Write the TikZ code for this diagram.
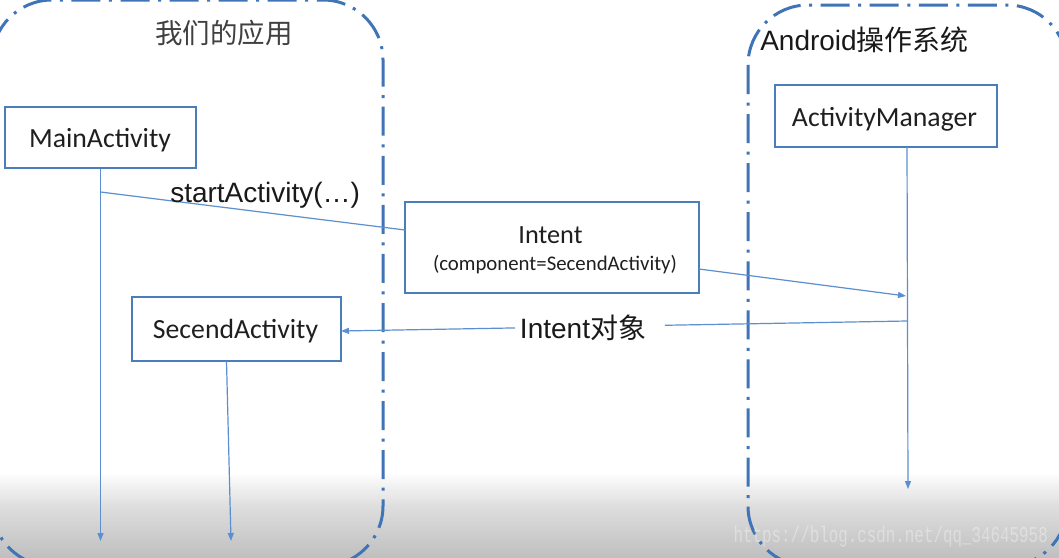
\documentclass[tikz,border=0pt]{standalone}
\usepackage{fontspec}
\setmainfont{Carlito}
\newfontfamily\arialf{Liberation Sans}
\newfontfamily\cjk{Noto Sans CJK SC}
\newfontfamily\wmfont{Liberation Mono}
\usetikzlibrary{arrows.meta,calc}
\definecolor{boxblue}{HTML}{4A7EBB}
\definecolor{lineblue}{HTML}{5B8FCF}
\definecolor{dashblue}{HTML}{3F74B6}
\begin{document}
\begin{tikzpicture}[x=0.75pt,y=-0.75pt,
  container/.style={draw=dashblue, line width=2.25pt, rounded corners=45pt,
    dash pattern=on 21.75pt off 6.4pt on 2.25pt off 6.4pt},
  objbox/.style={draw=boxblue, line width=1.9pt, fill=white, inner sep=0pt},
  lifeline/.style={draw=lineblue, line width=0.9pt},
  msg/.style={draw=lineblue, line width=0.9pt},
  tip/.style={-{Triangle[length=6pt,width=4.5pt]}},
  boxlabel/.style={font=\fontsize{20.8pt}{25pt}\selectfont, text=black!88, inner sep=0pt},
  biglabel/.style={font=\arialf\fontsize{21pt}{25pt}\selectfont, text=black!90, inner sep=0pt},
]
\useasboundingbox (0,0) rectangle (1059,557);
\clip (0,0) rectangle (1059,557);
% background
\fill[white] (0,0) rectangle (1059,557);
\shade[top color=white, bottom color=black!13] (0,472) rectangle (1059,506);
\shade[top color=black!13, bottom color=black!25] (0,506) rectangle (1059,557.5);

% containers
\draw[container] (-8,0) rectangle (383,566);
\draw[container] (748,5) rectangle (1067,566);

% container titles
\node[font=\cjk\fontsize{20.6pt}{25pt}\selectfont, text=black!75, inner sep=0pt] (appT) at (224,33) {我们的应用};
\node[biglabel, anchor=base west] (osT) at (760,50) {Android{\cjk 操作系统}};

% boxes
\node[objbox, minimum width=143.25pt, minimum height=45.75pt] (main) at (100.5,137.5) {};
\node[boxlabel, anchor=base] (mainL) at (100,147) {MainActivity};
\node[objbox, minimum width=166.5pt, minimum height=46.5pt] (am) at (886,116) {};
\node[boxlabel, anchor=base] (amL) at (884.5,126) {ActivityManager};
\node[objbox, minimum width=220.5pt, minimum height=68.25pt] (intent) at (552,247.5) {};
\node[boxlabel, font=\fontsize{19.7pt}{24pt}\selectfont, anchor=base] (intentL) at (550.5,243) {Intent};
\node[boxlabel, font=\fontsize{15.6pt}{19pt}\selectfont, anchor=base] (compL) at (555,270) {(component=SecendActivity)};
\node[objbox, minimum width=156.75pt, minimum height=48pt] (sec) at (236.5,329) {};
\node[boxlabel, anchor=base] (secL) at (235.5,338) {SecendActivity};

% lifelines
\coordinate (mainEnd) at (100.5,541);
\draw[lifeline,tip] (main.south) -- (mainEnd);
\coordinate (secTop) at (226.5,361);
\coordinate (secEnd) at (231,541);
\draw[lifeline,tip] (secTop) -- (secEnd);
\coordinate (amTop) at (907,147);
\coordinate (amEnd) at (908,489);
\draw[lifeline,tip] (amTop) -- (amEnd);

% messages
\coordinate (callPt) at (100.5,192);
\coordinate (intIn) at (405,230);
\draw[msg] (callPt) -- (intIn);
\node[biglabel, anchor=base west] (callL) at (170,202) {startActivity(…)};

\coordinate (intOut) at (699,269);
\coordinate (amIn) at (906,296);
\draw[msg,tip] (intOut) -- (amIn);

\coordinate (amOut) at (907,321);
\coordinate (secIn) at (341,331);
\coordinate (gapR) at ($(amOut)!0.4276!(secIn)$);
\coordinate (gapL) at ($(amOut)!0.6926!(secIn)$);
\draw[msg] (amOut) -- (gapR);
\draw[msg,tip] (gapL) -- (secIn);
\node[biglabel, anchor=base] (retL) at (583,338) {Intent{\cjk 对象}};

% watermark
\node[font=\wmfont\fontsize{17pt}{20pt}\selectfont, text=white, opacity=0.35, xscale=0.7, anchor=base east, inner sep=0pt] (wm) at (1048,542) {https://blog.csdn.net/qq\_34645958};
\end{tikzpicture}
\end{document}
